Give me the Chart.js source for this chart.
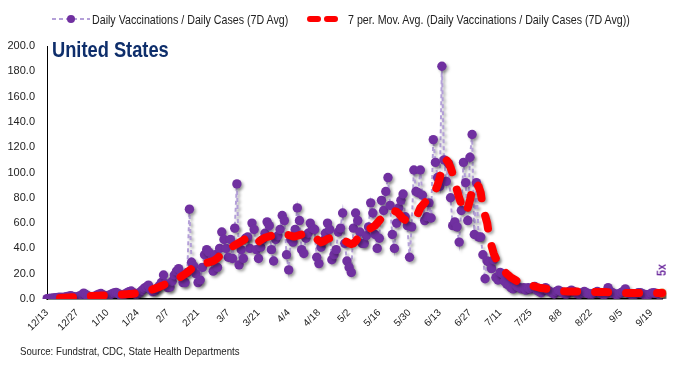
<!DOCTYPE html>
<html><head><meta charset="utf-8">
<script src="https://cdn.jsdelivr.net/npm/chart.js@4.4.0/dist/chart.umd.min.js"></script>
<style>
html,body{margin:0;padding:0;background:#fff;}
#wrap{position:relative;width:680px;height:366px;overflow:hidden;font-family:'Liberation Sans',Arial,sans-serif;color:#222;}
canvas{position:absolute;left:0;top:0;}
.abs{position:absolute;white-space:nowrap;line-height:1;}
.nar{transform-origin:0 50%;transform:scaleX(0.82);}
</style></head>
<body>
<div id="wrap">
<canvas id="c" width="680" height="366"></canvas>
<svg class="abs" style="left:50px;top:13px" width="42" height="12"><line x1="2" y1="6" x2="40" y2="6" stroke="#B4A0D8" stroke-width="2" stroke-dasharray="4,3"/><circle cx="21" cy="6" r="4" fill="#7030A0"/></svg>
<div class="abs nar" style="left:92px;top:13px;font-size:13px;">Daily Vaccinations / Daily Cases (7D Avg)</div>
<svg class="abs" style="left:304px;top:13px" width="38" height="12"><line x1="6" y1="6" x2="34" y2="6" stroke="#FF0000" stroke-width="6" stroke-linecap="round" stroke-dasharray="8,9"/></svg>
<div class="abs nar" style="left:348px;top:13px;font-size:13px;">7 per. Mov. Avg. (Daily Vaccinations / Daily Cases (7D Avg))</div>
<div class="abs nar" style="left:52px;top:40px;font-size:21.5px;font-weight:bold;color:#0E2E6B;transform:scaleX(0.85);">United States</div>
<div class="abs nar" style="left:20px;top:346px;font-size:11.5px;transform:scaleX(0.84);">Source: Fundstrat, CDC, State Health Departments</div>
<div class="abs" style="left:655px;top:264px;font-size:12px;font-weight:bold;color:#7030A0;transform:rotate(-90deg) scaleX(0.9);transform-origin:center;">5x</div>
</div>
<script>
// Daily vaccinations / daily cases (7D avg), daily from 12/13
const vaxToCases = [
  0.3,0.5,0.6,0.8,1.0,1.2,1.4,1.2,1.5,1.9,2.3,2.6,2.0,1.5,
  1.8,2.4,3.2,4.6,3.5,2.4,1.6,1.5,2.2,3.0,3.8,4.3,3.3,2.5,
  2.6,3.2,4.0,4.8,5.2,4.3,3.2,3.0,3.8,4.8,5.8,6.3,5.0,3.8,
  4.0,5.2,6.8,8.5,9.5,11.0,7.5,5.8,6.5,8.5,10.5,13.0,19.0,12.0,
  9.0,9.5,14.0,19.0,22.0,24.0,18.0,13.0,13.0,21.0,71.0,29.0,26.0,20.0,
  13.0,15.0,25.0,35.0,39.0,37.0,30.0,22.0,35.0,25.0,40.0,53.0,47.0,40.0,
  33.0,47.0,32.0,56.0,91.0,27.0,39.0,32.0,48.0,49.0,40.0,60.0,55.0,39.0,
  32.0,41.0,47.0,52.0,61.0,58.0,39.0,30.0,47.0,50.0,55.0,66.0,62.0,35.0,
  23.0,47.0,45.0,55.0,72.0,62.0,39.0,36.0,48.0,52.0,60.0,56.0,55.0,33.0,
  28.0,41.0,46.0,52.0,60.0,55.0,31.0,35.0,39.0,53.0,56.0,68.0,44.0,30.0,
  25.0,21.0,56.0,68.0,62.0,53.0,44.0,44.0,50.0,57.0,76.0,68.0,51.0,40.0,
  48.0,78.0,70.0,85.0,96.0,74.0,51.0,40.0,60.0,72.0,78.0,83.0,65.0,58.0,
  33.0,57.0,102.0,85.0,84.0,102.0,82.0,62.0,65.0,76.0,64.0,126.0,108.0,96.0,
  89.0,184.0,110.0,93.0,107.0,80.0,58.0,61.0,57.0,45.0,70.0,108.0,92.0,62.0,
  112.0,130.0,51.0,92.0,49.0,49.0,35.0,16.0,30.0,29.0,24.0,31.0,17.0,15.0,
  21.0,20.0,14.0,12.0,11.0,9.0,8.0,12.0,10.0,9.0,8.0,9.0,7.0,9.0,
  8.0,9.0,10.0,7.0,6.0,5.0,8.0,9.0,7.0,6.0,5.0,4.0,6.0,7.0,
  6.0,5.0,4.0,4.0,6.0,7.0,6.0,5.0,4.0,4.0,5.0,6.0,5.0,4.0,
  4.0,4.0,5.0,6.0,5.0,4.0,3.5,4.0,9.0,6.0,5.0,4.0,3.5,4.0,
  5.0,6.0,8.0,5.0,4.0,3.5,3.5,4.0,5.0,5.0,4.0,3.5,3.0,3.5,
  4.5,5.0,4.5,4.0,3.5,4.5
];
// 7 period moving average
const movingAvg7 = [
  null,null,null,null,null,null,0.8,0.9,1.0,1.1,1.2,1.3,1.4,1.5,
  1.6,1.7,1.9,2.1,2.2,2.3,2.3,2.3,2.4,2.5,2.6,2.7,2.8,2.8,
  2.9,3.0,3.1,3.2,3.3,3.4,3.5,3.6,3.7,3.8,3.9,4.0,4.2,4.4,
  4.6,5.0,5.4,5.8,6.2,6.6,7.0,7.6,8.2,8.8,9.5,10.3,11.0,11.8,
  12.4,13.0,13.8,14.6,15.5,16.5,17.5,18.6,19.8,21.0,22.5,24.0,25.0,25.5,
  25.8,26.5,27.5,28.0,28.5,29.0,29.5,30.0,31.0,32.5,34.0,35.5,37.0,38.5,
  39.5,40.5,41.5,42.5,43.5,44.5,45.5,46.5,47.5,48.0,47.0,45.0,43.5,44.0,
  45.0,46.5,47.5,48.5,49.0,49.5,50.0,50.5,51.0,51.0,51.0,51.0,51.0,50.8,
  50.5,50.0,49.5,49.5,50.0,50.5,51.0,51.0,51.0,51.0,50.5,50.0,49.0,47.5,
  46.0,45.0,45.5,46.5,47.5,48.0,48.5,48.5,48.0,47.5,47.0,46.5,46.0,45.0,
  44.0,43.5,44.0,45.5,48.0,50.5,52.0,53.0,54.0,55.0,56.0,57.0,58.0,60.0,
  62.0,64.0,65.5,66.5,67.5,68.5,69.0,69.5,69.0,67.5,65.5,63.5,62.5,62.0,
  61.5,61.5,62.0,64.0,68.0,72.0,74.0,76.0,78.0,80.0,82.0,84.0,86.0,90.0,
  96.0,102.0,107.0,110.0,108.0,104.0,99.0,92.0,86.0,80.0,75.0,70.0,68.0,72.0,
  78.0,86.0,92.0,91.0,89.0,84.0,72.0,66.0,60.0,48.0,42.0,36.0,32.0,29.0,
  26.0,24.0,22.0,20.0,18.5,17.0,16.0,15.0,14.0,13.5,13.0,12.5,12.0,11.5,
  11.0,10.5,10.0,9.5,9.0,8.7,8.5,8.2,8.0,7.7,7.4,7.1,6.8,6.5,
  6.3,6.2,6.1,6.0,6.0,6.0,6.0,6.0,5.9,5.8,5.7,5.6,5.5,5.5,
  5.5,5.5,5.5,5.5,5.5,5.5,5.5,5.5,5.4,5.3,5.2,5.0,4.9,4.8,
  4.7,4.7,4.7,4.7,4.7,4.7,4.7,4.7,4.7,4.7,4.7,4.7,4.7,4.7,
  4.7,4.7,4.7,4.7,4.7,4.7
];
const tickLabels = ['12/13','12/27','1/10','1/24','2/7','2/21','3/7','3/21','4/4','4/18','5/2','5/16','5/30','6/13','6/27','7/11','7/25','8/8','8/22','9/5','9/19'];
const startDate = new Date(2020, 11, 13);
const categories = vaxToCases.map((_, i) => {
  const d = new Date(startDate.getFullYear(), startDate.getMonth(), startDate.getDate() + i);
  return (d.getMonth() + 1) + '/' + d.getDate();
});

const shadowPlugin = {
  id: 'shadow',
  beforeDatasetDraw(chart) {
    const c = chart.ctx; c.save();
    c.shadowColor = 'rgba(0,0,0,0.35)'; c.shadowBlur = 3; c.shadowOffsetX = 2; c.shadowOffsetY = 2;
  },
  afterDatasetDraw(chart) { chart.ctx.restore(); }
};

const lastIdx = vaxToCases.length - 1;
new Chart(document.getElementById('c'), {
  type: 'line',
  data: {
    labels: categories,
    datasets: [
      {
        label: '7 per. Mov. Avg. (Daily Vaccinations / Daily Cases (7D Avg))',
        data: movingAvg7,
        borderColor: '#FF0000',
        borderWidth: 8,
        borderDash: [13, 18],
        borderCapStyle: 'round',
        pointRadius: 0,
        tension: 0,
        order: 1
      },
      {
        label: 'Daily Vaccinations / Daily Cases (7D Avg)',
        data: vaxToCases,
        borderColor: '#B4A0D8',
        borderWidth: 2,
        borderDash: [4, 3],
        pointRadius: 4.7,
        pointBorderWidth: 0,
        pointBackgroundColor: vaxToCases.map((_, i) => i === lastIdx ? '#ED7D31' : '#7030A0'),
        pointBorderColor: '#7030A0',
        tension: 0,
        order: 2
      }
    ]
  },
  options: {
    responsive: false,
    animation: false,
    devicePixelRatio: 1,
    layout: { padding: { top: 46, right: 18, left: 0, bottom: 0 } },
    plugins: { legend: { display: false }, tooltip: { enabled: false } },
    scales: {
      x: {
        type: 'category',
        offset: false,
        grid: { display: false, drawTicks: false },
        border: { display: true, color: '#000', width: 1.5 },
        ticks: {
          autoSkip: false,
          minRotation: 45, maxRotation: 45,
          padding: 8,
          color: '#222',
          font: { family: "'Liberation Sans',Arial,sans-serif", size: 10 },
          callback: function(v, i) { const l = categories[i]; return (i % 14 === 0 && tickLabels.includes(l)) ? l : ''; }
        },
        afterFit: s => { s.height = 67; }
      },
      y: {
        min: 0, max: 200,
        grid: { display: false, drawTicks: false },
        border: { display: true, color: '#000', width: 1 },
        ticks: {
          stepSize: 20,
          padding: 12,
          color: '#222',
          font: { family: "'Liberation Sans',Arial,sans-serif", size: 11 },
          callback: v => v.toFixed(1)
        },
        afterFit: s => { s.width = 47; }
      }
    }
  },
  plugins: [shadowPlugin]
});
</script>
</body></html>
